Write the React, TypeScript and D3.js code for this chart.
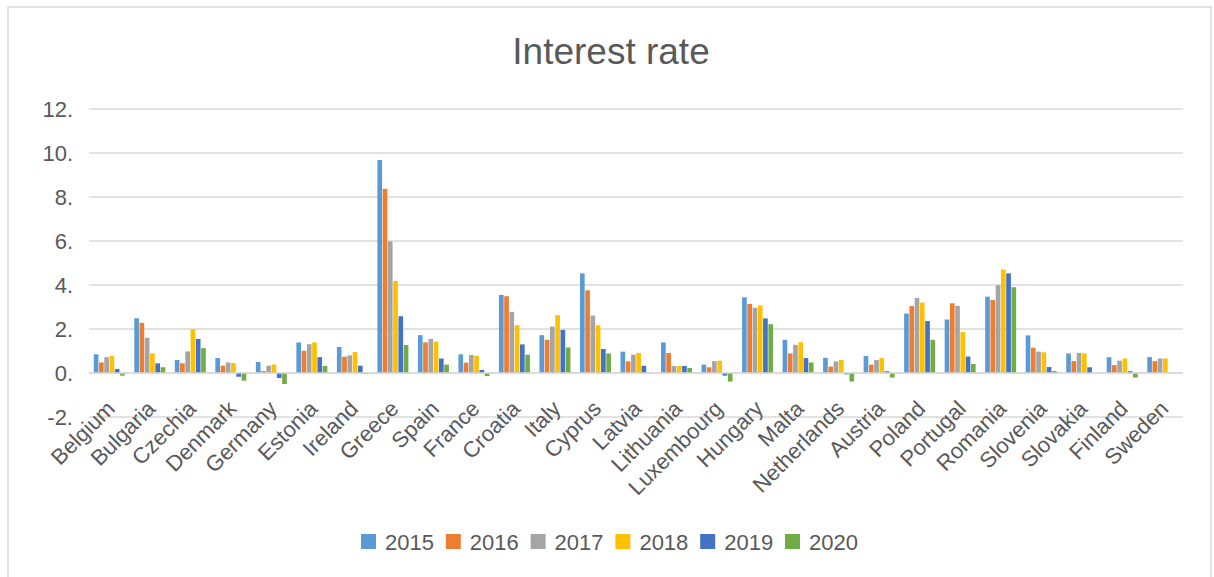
import React from "react";
import * as d3 from "d3";

const countries = ["Belgium","Bulgaria","Czechia","Denmark","Germany","Estonia","Ireland","Greece","Spain","France","Croatia","Italy","Cyprus","Latvia","Lithuania","Luxembourg","Hungary","Malta","Netherlands","Austria","Poland","Portugal","Romania","Slovenia","Slovakia","Finland","Sweden"];
const years = ["2015","2016","2017","2018","2019","2020"];

const v2015 = [0.85,2.49,0.59,0.68,0.50,1.39,1.18,9.68,1.72,0.85,3.55,1.72,4.53,0.97,1.39,0.38,3.44,1.51,0.69,0.77,2.70,2.43,3.47,1.71,0.89,0.72,0.72];
const v2016 = [0.48,2.28,0.44,0.33,0.09,1.01,0.74,8.37,1.39,0.47,3.49,1.51,3.76,0.53,0.91,0.26,3.14,0.89,0.29,0.38,3.04,3.17,3.32,1.15,0.54,0.36,0.54];
const v2017 = [0.72,1.60,0.98,0.48,0.33,1.31,0.80,5.98,1.55,0.82,2.78,2.11,2.61,0.83,0.32,0.54,2.97,1.28,0.53,0.59,3.41,3.05,3.99,0.97,0.91,0.56,0.66];
const v2018 = [0.78,0.89,1.99,0.45,0.39,1.39,0.95,4.18,1.43,0.78,2.17,2.63,2.17,0.91,0.32,0.56,3.07,1.40,0.59,0.68,3.20,1.86,4.70,0.94,0.89,0.66,0.66];
const v2019 = [0.18,0.44,1.55,-0.17,-0.23,0.72,0.33,2.58,0.66,0.14,1.30,1.96,1.09,0.33,0.32,-0.12,2.48,0.68,-0.06,0.08,2.36,0.75,4.53,0.27,0.26,0.08,0.00];
const v2020 = [-0.12,0.26,1.13,-0.35,-0.50,0.32,-0.05,1.27,0.38,-0.14,0.83,1.16,0.89,-0.03,0.23,-0.39,2.22,0.48,-0.39,-0.21,1.51,0.41,3.90,0.09,0.00,-0.21,0.00];
const series = [v2015, v2016, v2017, v2018, v2019, v2020];
const colors = ["#5B9BD5","#ED7D31","#A5A5A5","#FFC000","#4472C4","#70AD47"];
const yTicks = [-2, 0, 2, 4, 6, 8, 10, 12];

const W = 1214;
const H = 577;
const FONT = "'Liberation Sans', Arial, Helvetica, sans-serif";
const TXT = "#595959";

export default function App() {
  const x0 = d3.scaleBand<string>().domain(countries).range([89, 1183]).paddingInner(0).paddingOuter(0);
  const x1 = d3.scaleBand<string>().domain(years).range([0, x0.bandwidth()]).paddingInner(0).paddingOuter(0.85);
  const y = d3.scaleLinear().domain([-2, 12]).range([417, 109]);

  const legendStep = 84.8;
  const legendStart = 361;

  return (
    <svg width={W} height={H} style={{ position: "absolute", left: 0, top: 0, background: "#fff" }} fontFamily={FONT}>
      <rect x={8} y={7} width={1203} height={600} fill="#fff" stroke="#d9d9d9" strokeWidth={1.5} />
      <text x={611} y={64} textAnchor="middle" fontSize={37} fill={TXT}>Interest rate</text>
      {yTicks.map((t) => (
        <g key={t}>
          <line x1={89} x2={1183} y1={y(t)} y2={y(t)} stroke="#d9d9d9" strokeWidth={1.5} />
          <text x={73} y={y(t) + 8} textAnchor="end" fontSize={22} fill={TXT}>{`${t}.`}</text>
        </g>
      ))}
      {countries.map((c, ci) => (
        <g key={c} transform={`translate(${x0(c)},0)`}>
          {series.map((s, si) => {
            const v = s[ci];
            const top = y(Math.max(0, v));
            const h = Math.abs(y(v) - y(0));
            return (
              <rect key={si} x={x1(years[si])! + 0.3} y={top} width={x1.bandwidth() - 0.6} height={h} fill={colors[si]} />
            );
          })}
        </g>
      ))}
      <line x1={89} x2={1183} y1={y(0)} y2={y(0)} stroke="#d9d9d9" strokeWidth={1.5} />
      {countries.map((c) => {
        const ax = x0(c)! + x0.bandwidth() / 2 + 7;
        const ay = 410;
        return (
          <text key={c} x={ax} y={ay} textAnchor="end" fontSize={22} fill={TXT} transform={`rotate(-45 ${ax} ${ay})`}>{c}</text>
        );
      })}
      {years.map((yr, i) => (
        <g key={yr} transform={`translate(${legendStart + i * legendStep},0)`}>
          <rect x={0} y={534} width={15} height={15} fill={colors[i]} />
          <text x={24} y={550} fontSize={22} fill={TXT}>{yr}</text>
        </g>
      ))}
    </svg>
  );
}
